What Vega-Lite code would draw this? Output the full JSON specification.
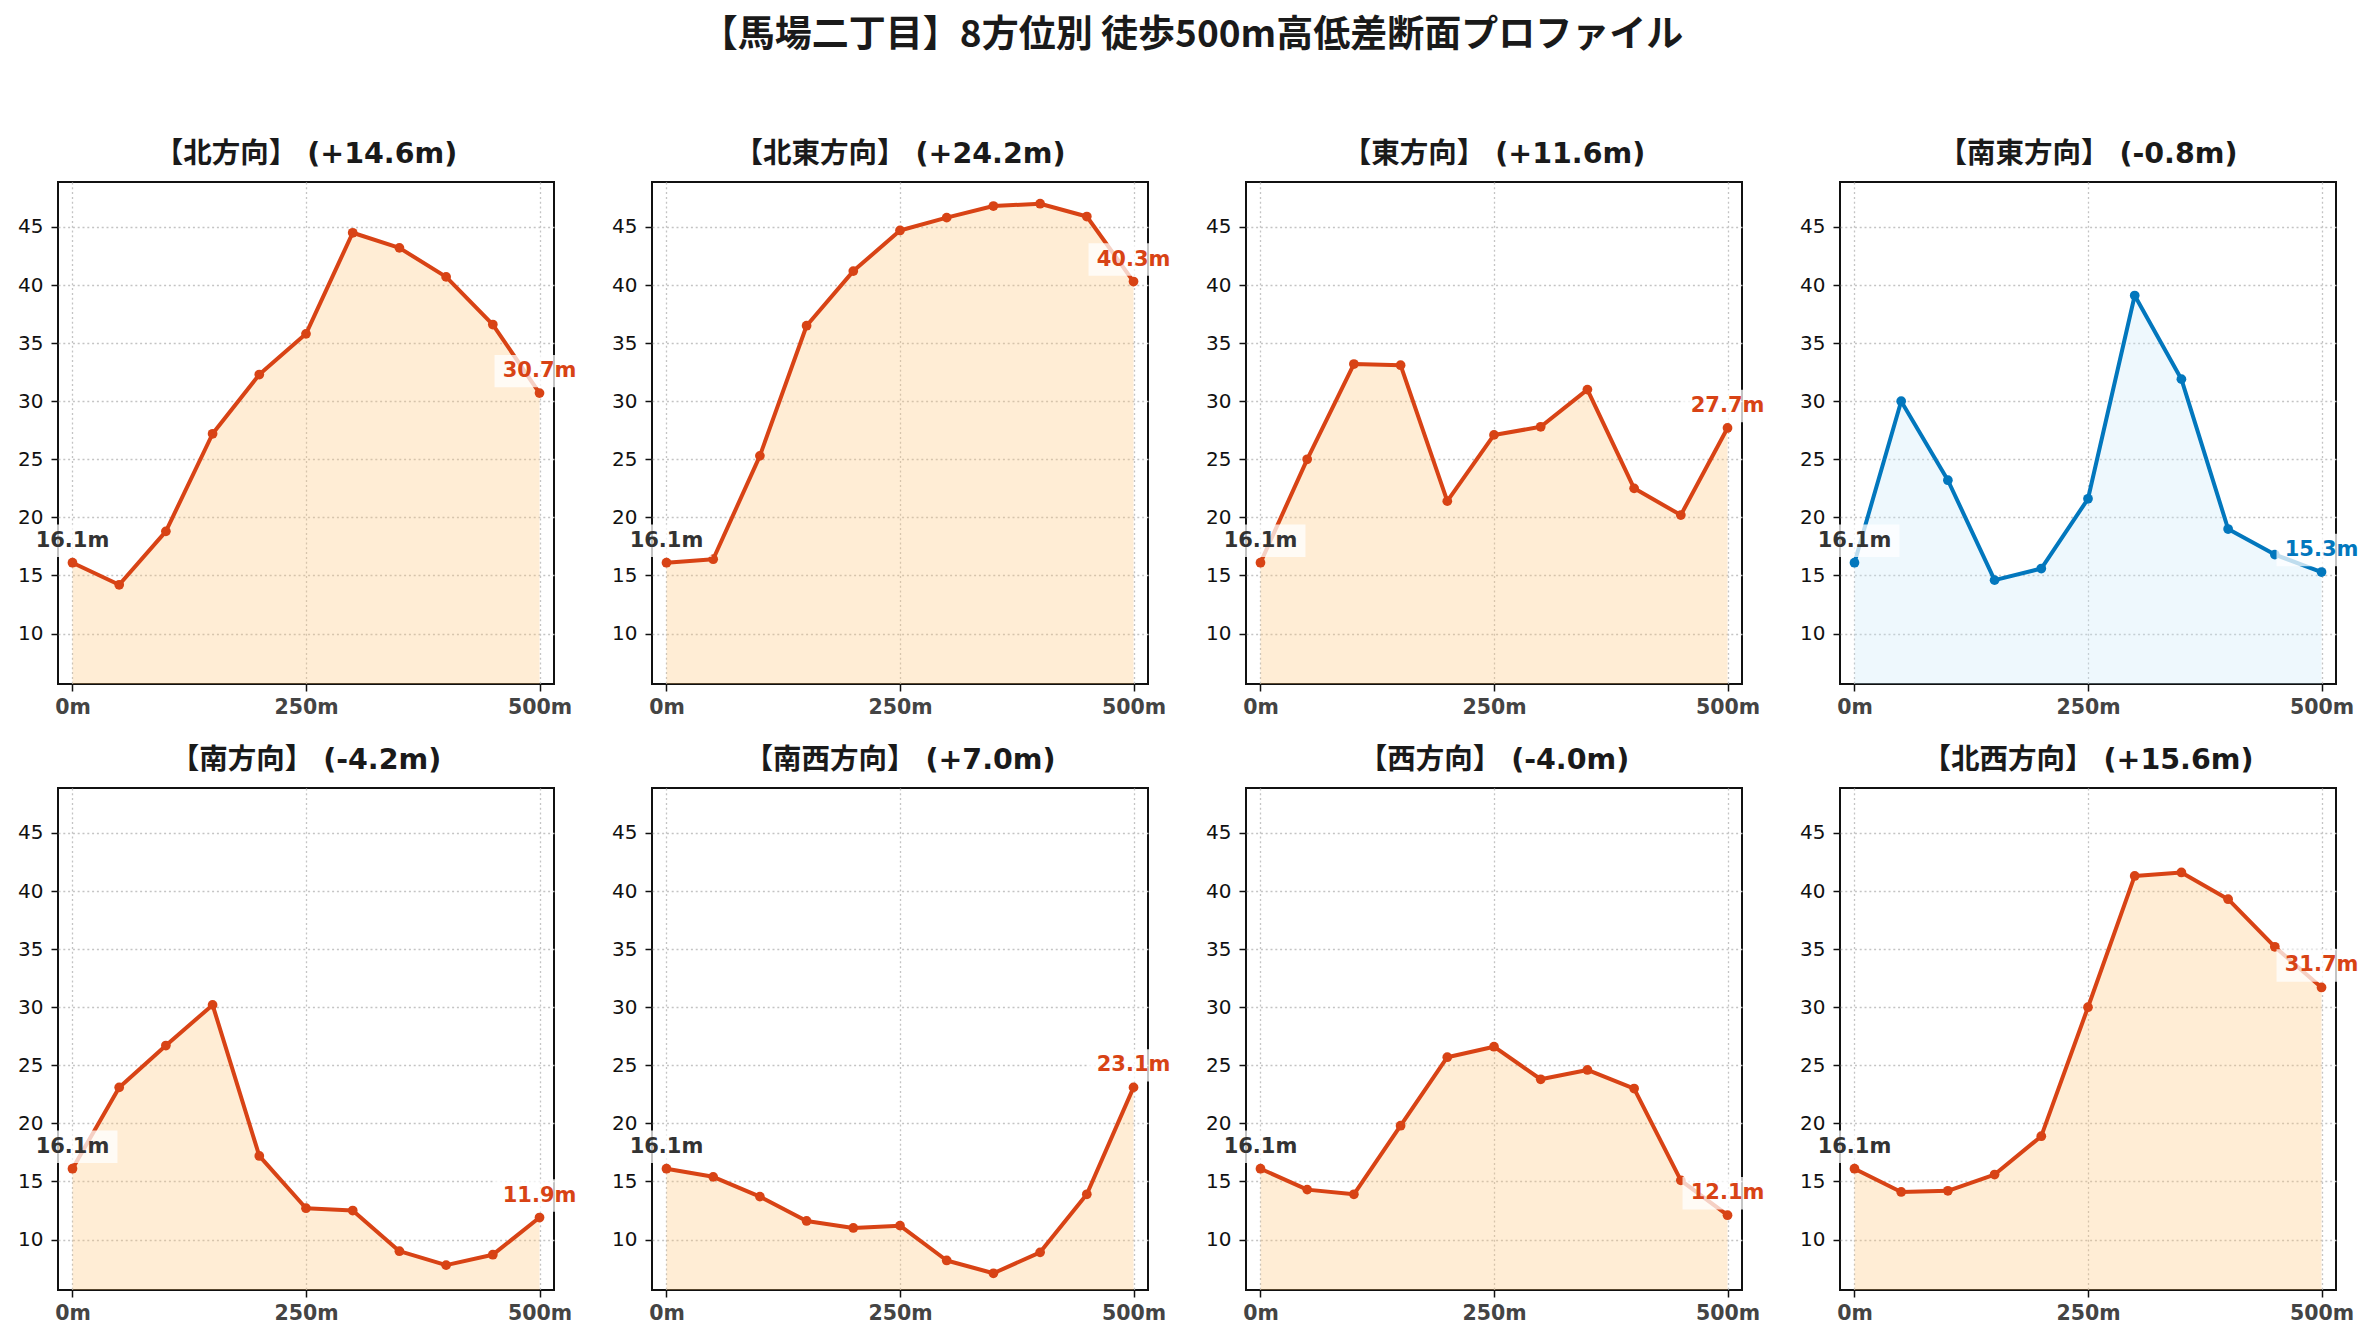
{
  "$schema": "https://vega.github.io/schema/vega-lite/v6.json",
  "background": "white",
  "padding": {"left": 16, "top": 16, "right": 10, "bottom": 10},
  "datasets": {
    "panels": [
      {"p": "N", "title": "【北方向】 (+14.6m)", "ord": 1, "grp": "n"},
      {"p": "NE", "title": "【北東方向】 (+24.2m)", "ord": 2, "grp": "n"},
      {"p": "E", "title": "【東方向】 (+11.6m)", "ord": 3, "grp": "n"},
      {"p": "SE", "title": "【南東方向】 (-0.8m)", "ord": 4, "grp": "h"},
      {"p": "S", "title": "【南方向】 (-4.2m)", "ord": 5, "grp": "n"},
      {"p": "SW", "title": "【南西方向】 (+7.0m)", "ord": 6, "grp": "n"},
      {"p": "W", "title": "【西方向】 (-4.0m)", "ord": 7, "grp": "n"},
      {"p": "NW", "title": "【北西方向】 (+15.6m)", "ord": 8, "grp": "n"}
    ],
    "pts": [
      {"p": "N", "d": 0, "e": 16.1}, {"p": "N", "d": 50, "e": 14.2}, {"p": "N", "d": 100, "e": 18.8}, {"p": "N", "d": 150, "e": 27.2}, {"p": "N", "d": 200, "e": 32.3}, {"p": "N", "d": 250, "e": 35.8}, {"p": "N", "d": 300, "e": 44.5}, {"p": "N", "d": 350, "e": 43.2}, {"p": "N", "d": 400, "e": 40.7}, {"p": "N", "d": 450, "e": 36.6}, {"p": "N", "d": 500, "e": 30.7},
      {"p": "NE", "d": 0, "e": 16.1}, {"p": "NE", "d": 50, "e": 16.4}, {"p": "NE", "d": 100, "e": 25.3}, {"p": "NE", "d": 150, "e": 36.5}, {"p": "NE", "d": 200, "e": 41.2}, {"p": "NE", "d": 250, "e": 44.7}, {"p": "NE", "d": 300, "e": 45.8}, {"p": "NE", "d": 350, "e": 46.8}, {"p": "NE", "d": 400, "e": 47.0}, {"p": "NE", "d": 450, "e": 45.9}, {"p": "NE", "d": 500, "e": 40.3},
      {"p": "E", "d": 0, "e": 16.1}, {"p": "E", "d": 50, "e": 25.0}, {"p": "E", "d": 100, "e": 33.2}, {"p": "E", "d": 150, "e": 33.1}, {"p": "E", "d": 200, "e": 21.4}, {"p": "E", "d": 250, "e": 27.1}, {"p": "E", "d": 300, "e": 27.8}, {"p": "E", "d": 350, "e": 31.0}, {"p": "E", "d": 400, "e": 22.5}, {"p": "E", "d": 450, "e": 20.2}, {"p": "E", "d": 500, "e": 27.7},
      {"p": "SE", "d": 0, "e": 16.1}, {"p": "SE", "d": 50, "e": 30.0}, {"p": "SE", "d": 100, "e": 23.2}, {"p": "SE", "d": 150, "e": 14.6}, {"p": "SE", "d": 200, "e": 15.6}, {"p": "SE", "d": 250, "e": 21.6}, {"p": "SE", "d": 300, "e": 39.1}, {"p": "SE", "d": 350, "e": 31.9}, {"p": "SE", "d": 400, "e": 19.0}, {"p": "SE", "d": 450, "e": 16.8}, {"p": "SE", "d": 500, "e": 15.3},
      {"p": "S", "d": 0, "e": 16.1}, {"p": "S", "d": 50, "e": 23.1}, {"p": "S", "d": 100, "e": 26.7}, {"p": "S", "d": 150, "e": 30.2}, {"p": "S", "d": 200, "e": 17.2}, {"p": "S", "d": 250, "e": 12.7}, {"p": "S", "d": 300, "e": 12.5}, {"p": "S", "d": 350, "e": 9.0}, {"p": "S", "d": 400, "e": 7.8}, {"p": "S", "d": 450, "e": 8.7}, {"p": "S", "d": 500, "e": 11.9},
      {"p": "SW", "d": 0, "e": 16.1}, {"p": "SW", "d": 50, "e": 15.4}, {"p": "SW", "d": 100, "e": 13.7}, {"p": "SW", "d": 150, "e": 11.6}, {"p": "SW", "d": 200, "e": 11.0}, {"p": "SW", "d": 250, "e": 11.2}, {"p": "SW", "d": 300, "e": 8.2}, {"p": "SW", "d": 350, "e": 7.1}, {"p": "SW", "d": 400, "e": 8.9}, {"p": "SW", "d": 450, "e": 13.9}, {"p": "SW", "d": 500, "e": 23.1},
      {"p": "W", "d": 0, "e": 16.1}, {"p": "W", "d": 50, "e": 14.3}, {"p": "W", "d": 100, "e": 13.9}, {"p": "W", "d": 150, "e": 19.8}, {"p": "W", "d": 200, "e": 25.7}, {"p": "W", "d": 250, "e": 26.6}, {"p": "W", "d": 300, "e": 23.8}, {"p": "W", "d": 350, "e": 24.6}, {"p": "W", "d": 400, "e": 23.0}, {"p": "W", "d": 450, "e": 15.1}, {"p": "W", "d": 500, "e": 12.1},
      {"p": "NW", "d": 0, "e": 16.1}, {"p": "NW", "d": 50, "e": 14.1}, {"p": "NW", "d": 100, "e": 14.2}, {"p": "NW", "d": 150, "e": 15.6}, {"p": "NW", "d": 200, "e": 18.9}, {"p": "NW", "d": 250, "e": 30.0}, {"p": "NW", "d": 300, "e": 41.3}, {"p": "NW", "d": 350, "e": 41.6}, {"p": "NW", "d": 400, "e": 39.3}, {"p": "NW", "d": 450, "e": 35.2}, {"p": "NW", "d": 500, "e": 31.7}
    ]
  },
  "data": {"name": "pts"},
  "transform": [
    {"lookup": "p", "from": {"data": {"name": "panels"}, "key": "p", "fields": ["title", "ord", "grp"]}},
    {"calculate": "format(datum.e, '.1f') + 'm'", "as": "lbl"}
  ],
  "title": {
    "text": "【馬場二丁目】8方位別 徒歩500m高低差断面プロファイル",
    "font": "Noto Sans CJK JP",
    "fontSize": 37,
    "fontWeight": "bold",
    "color": "#1a1a1a",
    "anchor": "middle",
    "offset": 84
  },
  "facet": {
    "field": "title",
    "type": "nominal",
    "sort": {"field": "ord", "op": "min"},
    "header": {
      "title": null,
      "labelFont": "DejaVu Sans, Noto Sans CJK JP",
      "labelFontSize": 28.5,
      "labelFontWeight": "bold",
      "labelColor": "#1a1a1a",
      "labelPadding": 14
    }
  },
  "columns": 4,
  "bounds": "flush",
  "spacing": {"row": 104, "column": 98},
  "resolve": {"axis": {"x": "independent", "y": "independent"}},
  "spec": {
    "width": 496,
    "height": 502,
    "encoding": {
      "x": {
        "field": "d",
        "type": "quantitative",
        "scale": {"domain": [-15.5, 515.5], "nice": false, "zero": false},
        "axis": {
          "title": null,
          "values": [0, 250, 500],
          "labelExpr": "datum.value + 'm'",
          "labelFontWeight": "bold",
          "labelColor": "#444444",
          "labelFontSize": 20.5,
          "labelPadding": 6
        }
      },
      "y": {
        "field": "e",
        "type": "quantitative",
        "scale": {"domain": [5.66, 48.87], "nice": false, "zero": false},
        "axis": {
          "title": null,
          "values": [10, 15, 20, 25, 30, 35, 40, 45],
          "labelFontSize": 20,
          "labelColor": "#111111",
          "labelPadding": 8
        }
      }
    },
    "layer": [
      {
        "mark": {"type": "area", "fillOpacity": 0.3, "line": false},
        "encoding": {
          "y2": {"datum": 5.66},
          "fill": {"field": "grp", "type": "nominal", "scale": {"domain": ["n", "h"], "range": ["#FFC373", "#C6E8F8"]}, "legend": null}
        }
      },
      {
        "mark": {"type": "line", "strokeWidth": 4, "strokeJoin": "round", "strokeCap": "round"},
        "encoding": {
          "color": {"field": "grp", "type": "nominal", "scale": {"domain": ["n", "h"], "range": ["#D84315", "#0277BD"]}, "legend": null}
        }
      },
      {
        "mark": {"type": "point", "filled": true, "size": 95, "opacity": 1},
        "encoding": {
          "color": {"field": "grp", "type": "nominal", "legend": null}
        }
      },
      {
        "transform": [{"filter": "datum.d == 0 || datum.d == 500"}],
        "mark": {"type": "point", "shape": "M-1,-0.36H1V0.36H-1Z", "size": 8100, "filled": true, "fill": "white", "fillOpacity": 0.75, "strokeWidth": 0, "yOffset": -22}
      },
      {
        "transform": [{"filter": "datum.d == 0"}],
        "mark": {"type": "text", "font": "DejaVu Sans", "fontSize": 21, "fontWeight": "bold", "color": "#333333", "dy": -22, "baseline": "middle", "align": "center"},
        "encoding": {"text": {"field": "lbl"}}
      },
      {
        "transform": [{"filter": "datum.d == 500"}],
        "mark": {"type": "text", "font": "DejaVu Sans", "fontSize": 21, "fontWeight": "bold", "dy": -22, "baseline": "middle", "align": "center"},
        "encoding": {
          "text": {"field": "lbl"},
          "color": {"field": "grp", "type": "nominal", "legend": null}
        }
      }
    ]
  },
  "config": {
    "font": "DejaVu Sans",
    "view": {"stroke": "#111111", "strokeWidth": 2},
    "axis": {
      "labelFont": "DejaVu Sans",
      "domain": false,
      "ticks": true,
      "tickColor": "#111111",
      "tickSize": 7,
      "tickWidth": 1.5,
      "grid": true,
      "gridColor": "#c4c4c4",
      "gridDash": [2, 2.8],
      "gridWidth": 1.3,
      "gridOpacity": 1
    }
  }
}
